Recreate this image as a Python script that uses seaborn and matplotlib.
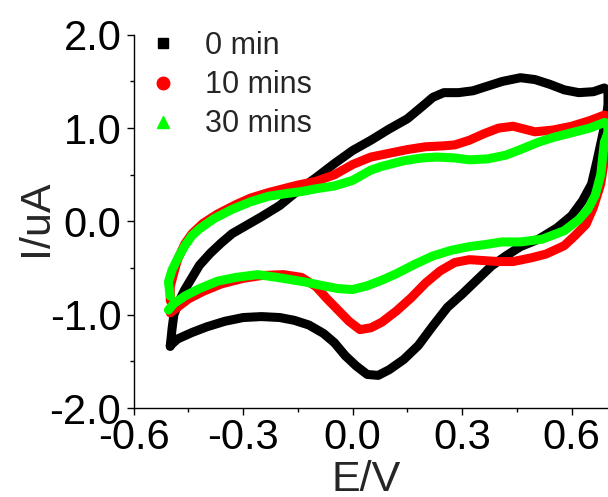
import matplotlib
matplotlib.use("Agg")
import matplotlib.pyplot as plt
from matplotlib.lines import Line2D
from matplotlib.ticker import MultipleLocator
import seaborn as sns
import pandas as pd

labels = ["0 min", "10 mins", "30 mins"]
colors = ["#000000", "#ff0000", "#00ff00"]
markers = ["s", "o", "^"]

# 0 min: forward (anodic) then reverse scan
E0 = [-0.50, -0.495, -0.49, -0.475, -0.46, -0.44, -0.42, -0.39, -0.36, -0.33, -0.29, -0.25,
      -0.20, -0.15, -0.10, -0.05, 0.00, 0.05, 0.10, 0.15, 0.19, 0.22, 0.25, 0.29, 0.33, 0.37,
      0.41, 0.46, 0.50, 0.54, 0.58, 0.62, 0.66, 0.69, 0.70,
      0.70, 0.695, 0.685, 0.67, 0.655, 0.63, 0.60, 0.56, 0.51, 0.46, 0.42, 0.38, 0.34, 0.30,
      0.26, 0.22, 0.18, 0.14, 0.10, 0.07, 0.04, 0.01, -0.02, -0.05, -0.08, -0.12, -0.16,
      -0.20, -0.25, -0.30, -0.35, -0.40, -0.44, -0.48, -0.50]
I0 = [-1.34, -1.15, -1.00, -0.85, -0.73, -0.60, -0.47, -0.34, -0.23, -0.13, -0.04, 0.05,
      0.17, 0.33, 0.47, 0.62, 0.76, 0.87, 0.99, 1.10, 1.23, 1.33, 1.38, 1.38, 1.40, 1.45,
      1.50, 1.54, 1.52, 1.47, 1.41, 1.38, 1.39, 1.43, 1.40,
      1.25, 1.10, 0.92, 0.65, 0.40, 0.22, 0.06, -0.07, -0.19, -0.27, -0.37, -0.48, -0.63, -0.78,
      -0.92, -1.12, -1.33, -1.48, -1.59, -1.65, -1.64, -1.55, -1.44, -1.30, -1.20, -1.11, -1.06,
      -1.03, -1.02, -1.03, -1.07, -1.13, -1.19, -1.26, -1.33]

# 10 mins
E10 = [-0.50, -0.50, -0.49, -0.48, -0.46, -0.44, -0.41, -0.37, -0.32, -0.28, -0.23, -0.19,
       -0.15, -0.10, -0.05, 0.00, 0.05, 0.10, 0.15, 0.20, 0.25, 0.28, 0.32, 0.36, 0.40, 0.44,
       0.47, 0.50, 0.55, 0.60, 0.65, 0.69, 0.70,
       0.70, 0.695, 0.68, 0.66, 0.64, 0.61, 0.58, 0.53, 0.49, 0.44, 0.40, 0.36, 0.32, 0.28,
       0.24, 0.20, 0.16, 0.12, 0.08, 0.05, 0.02, -0.01, -0.04, -0.07, -0.10, -0.14, -0.19,
       -0.25, -0.30, -0.36, -0.41, -0.45, -0.48, -0.50]
I10 = [-0.85, -0.70, -0.55, -0.41, -0.24, -0.13, -0.02, 0.08, 0.18, 0.25, 0.31, 0.35,
       0.39, 0.43, 0.50, 0.61, 0.69, 0.73, 0.77, 0.80, 0.81, 0.82, 0.87, 0.94, 1.00, 1.02,
       0.99, 0.96, 0.98, 1.02, 1.08, 1.14, 1.12,
       0.95, 0.78, 0.40, 0.15, -0.03, -0.15, -0.26, -0.35, -0.39, -0.43, -0.43, -0.42, -0.41, -0.44,
       -0.53, -0.66, -0.82, -0.96, -1.08, -1.14, -1.16, -1.07, -0.95, -0.83, -0.70, -0.60, -0.57,
       -0.58, -0.61, -0.67, -0.75, -0.83, -0.92, -0.98]

# 30 mins
E30 = [-0.50, -0.505, -0.495, -0.48, -0.46, -0.44, -0.42, -0.38, -0.33, -0.28, -0.23, -0.18,
       -0.14, -0.10, -0.05, 0.00, 0.05, 0.08, 0.14, 0.19, 0.23, 0.28, 0.32, 0.37, 0.42, 0.46,
       0.51, 0.55, 0.60, 0.65, 0.69, 0.70,
       0.70, 0.69, 0.68, 0.665, 0.645, 0.62, 0.58, 0.52, 0.46, 0.41, 0.36, 0.32, 0.27, 0.22,
       0.17, 0.12, 0.08, 0.04, 0.00, -0.04, -0.08, -0.13, -0.19, -0.26, -0.32, -0.37, -0.42,
       -0.46, -0.49, -0.505]
I30 = [-0.80, -0.65, -0.52, -0.40, -0.26, -0.15, -0.08, 0.03, 0.13, 0.21, 0.27, 0.30,
       0.32, 0.35, 0.38, 0.44, 0.55, 0.59, 0.65, 0.68, 0.69, 0.68, 0.66, 0.67, 0.71, 0.77,
       0.85, 0.90, 0.95, 1.00, 1.06, 1.05,
       0.95, 0.85, 0.50, 0.28, 0.13, 0.02, -0.10, -0.19, -0.22, -0.22, -0.25, -0.27, -0.31, -0.37,
       -0.46, -0.56, -0.63, -0.69, -0.73, -0.72, -0.69, -0.65, -0.61, -0.57, -0.60, -0.64, -0.72,
       -0.80, -0.88, -0.95]

x_ticks = [-0.6, -0.3, 0.0, 0.3, 0.6]
y_ticks = [-2.0, -1.0, 0.0, 1.0, 2.0]

frames = []
for lab, E, I in zip(labels, [E0, E10, E30], [I0, I10, I30]):
    frames.append(pd.DataFrame({"E": E, "I": I, "series": lab, "idx": range(len(E))}))
df = pd.concat(frames, ignore_index=True)

sns.set_style("ticks")
plt.rcParams["font.family"] = ["Liberation Sans", "DejaVu Sans"]

fig = plt.figure(figsize=(6.08, 4.97), dpi=100)
ax = fig.add_axes([0.220, 0.179, 0.780, 0.751])

sns.lineplot(data=df, x="E", y="I", hue="series", hue_order=labels,
             palette=dict(zip(labels, colors)), sort=False, estimator=None,
             linewidth=6.5, legend=False, ax=ax,
             solid_capstyle="round", solid_joinstyle="round")

ax.set_xlim(-0.6, 0.7)
ax.set_ylim(-2.0, 2.0)
ax.set_xticks(x_ticks)
ax.set_xticklabels([f"{v:.1f}" for v in x_ticks])
ax.set_yticks(y_ticks)
ax.set_yticklabels([f"{v:.1f}" for v in y_ticks])
ax.xaxis.set_minor_locator(MultipleLocator(0.15))
ax.yaxis.set_minor_locator(MultipleLocator(0.5))

for s in ["top", "right"]:
    ax.spines[s].set_visible(False)
for s in ["left", "bottom"]:
    ax.spines[s].set_linewidth(1.0)
    ax.spines[s].set_color("black")

ax.tick_params(which="major", direction="out", length=5, width=1.0, labelsize=30,
               colors="black")
ax.tick_params(axis="y", which="major", pad=4)
ax.tick_params(axis="x", which="major", pad=2)
ax.tick_params(which="minor", direction="out", length=3, width=1.0, colors="black")

ax.set_xlabel("E/V", fontsize=31)
ax.set_ylabel("I/uA", fontsize=31)
ax.xaxis.set_label_coords(0.49, -0.14)
ax.yaxis.set_label_coords(-0.165, 0.51)

handles = [Line2D([], [], linestyle="none", marker=m, color=c, markersize=ms)
           for m, c, ms in zip(markers, colors, [7, 9, 9])]
ax.legend(handles, labels, loc="upper left", bbox_to_anchor=(0.03, 1.01),
          frameon=False, fontsize=22, handlelength=1.0, handletextpad=0.85,
          labelspacing=0.3, borderpad=0, borderaxespad=0)

fig.savefig("out.png", dpi=100)
